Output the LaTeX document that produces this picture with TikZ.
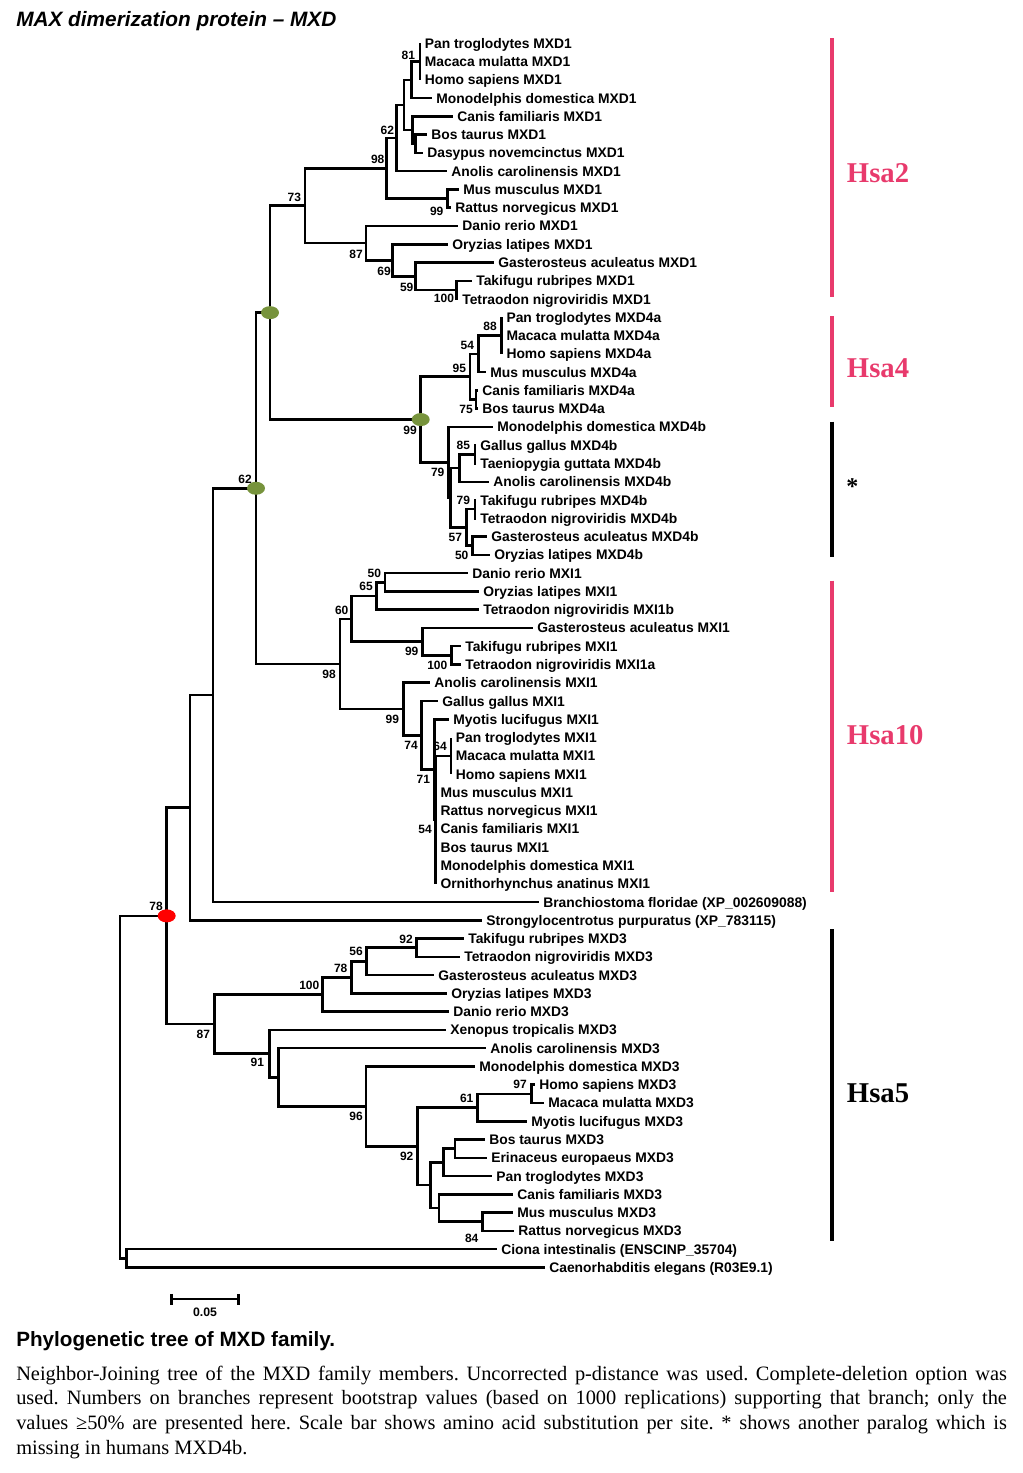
\documentclass[tikz,border=0pt]{standalone}
\usepackage{fontspec}
\setmainfont{Liberation Serif}
\newfontfamily\arialf{Liberation Sans}
\usetikzlibrary{shapes.geometric}
\definecolor{hsapink}{RGB}{232,58,108}
\definecolor{olivedot}{RGB}{119,147,60}
\frenchspacing
\begin{document}
\begin{tikzpicture}[x=0.75pt,y=-0.75pt,
 declare function={ly(\i)=43.3+18.27*(\i-1);},
 br/.style={line width=1.9pt, line join=miter},
 leaf/.style={anchor=west, inner xsep=3.4pt, inner ysep=0pt, font=\arialf\bfseries\fontsize{10.4}{12}\selectfont, text height=7.5pt, text depth=0pt},
 bs/.style={inner sep=0pt, font=\arialf\bfseries\fontsize{9}{10}\selectfont},
 hdot/.style={ellipse, inner sep=0pt, minimum width=13.5pt, minimum height=9.75pt},
 hsa/.style={anchor=west, inner sep=0pt, font=\bfseries\fontsize{21.5}{24}\selectfont},
 grp/.style={line width=3pt},
 capline/.style={anchor=base west, inner sep=0pt, font=\fontsize{15.3}{18.5}\selectfont}
]
\useasboundingbox (0,0) rectangle (1022,1473);

% title
\node[anchor=base west, inner sep=0pt, font=\arialf\bfseries\itshape\fontsize{15.6}{18}\selectfont] (title) at (16,26.7) {MAX dimerization protein – MXD};

% leaves
\foreach \i/\tx/\lab in {
 1/420/Pan troglodytes MXD1,
 2/420/Macaca mulatta MXD1,
 3/420/Homo sapiens MXD1,
 4/431.5/Monodelphis domestica MXD1,
 5/452.5/Canis familiaris MXD1,
 6/426.5/Bos taurus MXD1,
 7/422.5/Dasypus novemcinctus MXD1,
 8/446.5/Anolis carolinensis MXD1,
 9/458.5/Mus musculus MXD1,
 10/450.5/Rattus norvegicus MXD1,
 11/457.5/Danio rerio MXD1,
 12/447.5/Oryzias latipes MXD1,
 13/493.5/Gasterosteus aculeatus MXD1,
 14/471.5/Takifugu rubripes MXD1,
 15/457.5/Tetraodon nigroviridis MXD1,
 16/501.7/Pan troglodytes MXD4a,
 17/501.7/Macaca mulatta MXD4a,
 18/501.7/Homo sapiens MXD4a,
 19/485.5/Mus musculus MXD4a,
 20/477.5/Canis familiaris MXD4a,
 21/477.5/Bos taurus MXD4a,
 22/492.5/Monodelphis domestica MXD4b,
 23/475.5/Gallus gallus MXD4b,
 24/475.5/Taeniopygia guttata MXD4b,
 25/488.5/Anolis carolinensis MXD4b,
 26/475.5/Takifugu rubripes MXD4b,
 27/475.5/Tetraodon nigroviridis MXD4b,
 28/486.5/Gasterosteus aculeatus MXD4b,
 29/489.5/Oryzias latipes MXD4b,
 30/467.5/Danio rerio MXI1,
 31/478.5/Oryzias latipes MXI1,
 32/478.5/Tetraodon nigroviridis MXI1b,
 33/532.5/Gasterosteus aculeatus MXI1,
 34/460.5/Takifugu rubripes MXI1,
 35/460.5/Tetraodon nigroviridis MXI1a,
 36/429.5/Anolis carolinensis MXI1,
 37/437.5/Gallus gallus MXI1,
 38/448.5/Myotis lucifugus MXI1,
 39/451/Pan troglodytes MXI1,
 40/451/Macaca mulatta MXI1,
 41/451/Homo sapiens MXI1,
 42/435.7/Mus musculus MXI1,
 43/435.7/Rattus norvegicus MXI1,
 44/435.7/Canis familiaris MXI1,
 45/435.7/Bos taurus MXI1,
 46/435.7/Monodelphis domestica MXI1,
 47/435.7/Ornithorhynchus anatinus MXI1,
 48/538.5/Branchiostoma floridae (XP\_002609088),
 49/481.5/Strongylocentrotus purpuratus (XP\_783115),
 50/463.5/Takifugu rubripes MXD3,
 51/459.5/Tetraodon nigroviridis MXD3,
 52/433.5/Gasterosteus aculeatus MXD3,
 53/446.5/Oryzias latipes MXD3,
 54/448.5/Danio rerio MXD3,
 55/445.5/Xenopus tropicalis MXD3,
 56/485.5/Anolis carolinensis MXD3,
 57/474.5/Monodelphis domestica MXD3,
 58/534.5/Homo sapiens MXD3,
 59/543.5/Macaca mulatta MXD3,
 60/526.5/Myotis lucifugus MXD3,
 61/484.5/Bos taurus MXD3,
 62/486.5/Erinaceus europaeus MXD3,
 63/491.5/Pan troglodytes MXD3,
 64/512.5/Canis familiaris MXD3,
 65/512.5/Mus musculus MXD3,
 66/513.5/Rattus norvegicus MXD3,
 67/496.5/Ciona intestinalis (ENSCINP\_35704),
 68/544.5/Caenorhabditis elegans (R03E9.1)}
 \node[leaf] (l\i) at (\tx,{ly(\i)}) {\lab};

% internal nodes (x in px, y as leaf index)
\foreach \n/\x/\k in {
 n81/420/2, nA/411.7/3, nD/415.7/6.5, nC/412.3/5.75, nB/404/4.375,
 nE/396.7/6.1875, nG/447.7/9.5, nF/386.7/7.84375, nL/456.7/14.5,
 nK/415.7/13.75, nJ/392.3/12.875, nI/366/11.9375, nH/305/9.890625,
 n88/501.7/17, n54/478.3/18, n75/476/20.5, n95/470/19.25,
 n85/475/23.5, nR/459.3/24.25, nU/475/26.5, nV/472.7/28.5,
 nS/466.7/27.5, nQ/450.7/25.875, nP/448.3/23.9375, nM/420.7/21.59375,
 nW/270/15.7421875,
 nAB/385/30.5, nAA/376.7/31.25, nAD/451.7/34.5, nAC/422.7/33.75,
 nZ/351.7/32.5, nAI/451/40, nAH/435.7/43.5, nAG/434.3/40.75,
 nAF/421.7/38.875, nAE/403.3/37.4375, nY/340/34.96875,
 nX/256/25.35546875, nBr/213/36.677734375, nSt/190/42.8388671875,
 nBE/416.7/50.5, nBD/366.7/51.25, nBC/351.7/52.125, nBB/322.7/53.0625,
 nBK/531.7/58.5, nBJ/477.3/59.25, nBN/455/61.5, nBM/443.3/62.25,
 nBP/482.7/65.5, nBO/439/64.75, nBL/430.7/63.5, nBI/417.3/61.375,
 nBH/366/59.1875, nBG/278.3/57.59375, nBF/269.3/56.296875,
 nBA/214.3/54.6796875, nRed/166.7/48.7592773, nCC/126.7/67.5,
 nRoot/120/58.1296387}
 \coordinate (\n) at (\x,{ly(\k)});

% branches
\foreach \p/\c in {
 n81/l1.west, n81/l2.west, n81/l3.west, nA/n81, nA/l4.west,
 nD/l6.west, nD/l7.west, nC/l5.west, nC/nD, nB/nA, nB/nC,
 nE/nB, nE/l8.west, nG/l9.west, nG/l10.west, nF/nE, nF/nG,
 nL/l14.west, nL/l15.west, nK/l13.west, nK/nL, nJ/l12.west, nJ/nK,
 nI/l11.west, nI/nJ, nH/nF, nH/nI,
 n88/l16.west, n88/l17.west, n88/l18.west, n54/n88, n54/l19.west,
 n75/l20.west, n75/l21.west, n95/n54, n95/n75,
 n85/l23.west, n85/l24.west, nR/n85, nR/l25.west,
 nU/l26.west, nU/l27.west, nV/l28.west, nV/l29.west, nS/nU, nS/nV,
 nQ/nR, nQ/nS, nP/l22.west, nP/nQ, nM/n95, nM/nP, nW/nH, nW/nM,
 nAB/l30.west, nAB/l31.west, nAA/nAB, nAA/l32.west,
 nAD/l34.west, nAD/l35.west, nAC/l33.west, nAC/nAD, nZ/nAA, nZ/nAC,
 nAI/l39.west, nAI/l40.west, nAI/l41.west, nAH/nAI,
 nAH/l42.west, nAH/l43.west, nAH/l44.west, nAH/l45.west, nAH/l46.west, nAH/l47.west,
 nAG/l38.west, nAG/nAH, nAF/l37.west, nAF/nAG, nAE/l36.west, nAE/nAF,
 nY/nZ, nY/nAE, nX/nW, nX/nY, nBr/nX, nBr/l48.west, nSt/nBr, nSt/l49.west,
 nBE/l50.west, nBE/l51.west, nBD/nBE, nBD/l52.west, nBC/nBD, nBC/l53.west,
 nBB/nBC, nBB/l54.west,
 nBK/l58.west, nBK/l59.west, nBJ/nBK, nBJ/l60.west,
 nBN/l61.west, nBN/l62.west, nBM/nBN, nBM/l63.west,
 nBP/l65.west, nBP/l66.west, nBO/l64.west, nBO/nBP,
 nBL/nBM, nBL/nBO, nBI/nBJ, nBI/nBL, nBH/l57.west, nBH/nBI,
 nBG/l56.west, nBG/nBH, nBF/l55.west, nBF/nBG, nBA/nBB, nBA/nBF,
 nRed/nSt, nRed/nBA, nCC/l67.west, nCC/l68.west, nRoot/nRed, nRoot/nCC}
 \draw[br] (\p) |- (\c);

% highlighted nodes
\node[hdot, fill=olivedot] (d1) at (nW) {};
\node[hdot, fill=olivedot] (d2) at (nM) {};
\node[hdot, fill=olivedot] (d3) at (nX) {};
\node[hdot, fill=red] (d4) at (nRed) {};

% bootstrap values
\foreach \n/\x/\y/\t in {
 b1/408.3/55/81, b2/387.3/130/62, b3/377.7/159.3/98, b4/294.3/197.3/73,
 b5/436.7/211/99, b6/356/254/87, b7/384/271.7/69, b8/406.7/287/59,
 b9/444/298.5/100, b10/490/326.7/88, b11/467.3/345/54, b12/459.3/368.3/95,
 b13/466/409.3/75, b14/410/430/99, b15/463.3/445.7/85, b16/437.7/472.7/79,
 b17/463.3/500/79, b18/455.3/537.7/57, b19/461.7/555.7/50, b20/245/479/62,
 b21/374.3/573.3/50, b22/366/586.7/65, b23/341.7/610/60, b24/411.7/651/99,
 b25/437.3/665/100, b26/329/674.3/98, b27/392.3/719/99, b28/411/745.7/74,
 b29/440/746.7/64, b30/423.3/779.3/71, b31/425/829.3/54, b32/156/906/78,
 b33/406/939/92, b34/356/951.7/56, b35/340.7/968.3/78, b36/309.3/985/100,
 b37/203.3/1034/87, b38/257.3/1062.7/91, b39/520/1084.3/97, b40/466.7/1098.3/61,
 b41/356/1116.7/96, b42/406.7/1156/92, b43/471.7/1238/84}
 \node[bs] (\n) at (\x,\y) {\t};

% group bars and labels
\draw[grp, hsapink] (831.7,38.3) -- (831.7,296.7);
\draw[grp, hsapink] (831.7,316) -- (831.7,406.7);
\draw[grp, black] (831.7,421.7) -- (831.7,556.7);
\draw[grp, hsapink] (831.7,580.7) -- (831.7,891.7);
\draw[grp, black] (831.7,929) -- (831.7,1240.5);
\node[hsa, text=hsapink] (h2) at (846.7,173) {Hsa2};
\node[hsa, text=hsapink] (h4) at (846.7,368.3) {Hsa4};
\node[inner sep=0pt, font=\bfseries\fontsize{18}{20}\selectfont] (star) at (852.3,487) {*};
\node[hsa, text=hsapink] (h10) at (846.7,735) {Hsa10};
\node[hsa, text=black] (h5) at (846.7,1093) {Hsa5};

% scale bar
\coordinate (s1) at (171.7,1299);
\coordinate (s2) at (238.3,1299);
\draw[line width=1.9pt] (s1) -- (s2);
\draw[line width=1.9pt] ([yshift=3.9pt]s1) -- ([yshift=-4.2pt]s1);
\draw[line width=1.9pt] ([yshift=3.9pt]s2) -- ([yshift=-4.2pt]s2);
\node[bs, font=\arialf\bfseries\fontsize{9.2}{10}\selectfont] (sl) at (205,1312) {0.05};

% caption
\node[anchor=base west, inner sep=0pt, font=\arialf\bfseries\fontsize{15.5}{18}\selectfont] (ctitle) at (16,1346) {Phylogenetic tree of MXD family.};
\node[capline] (c1) at (16,1380) {\makebox[743pt][s]{Neighbor-Joining tree of the MXD family members. Uncorrected p-distance was used. Complete-deletion option was}};
\node[capline] (c2) at (16,1404.7) {\makebox[743pt][s]{used. Numbers on branches represent bootstrap values (based on 1000 replications) supporting that branch; only the}};
\node[capline] (c3) at (16,1429.4) {\makebox[743pt][s]{values ≥50\% are presented here. Scale bar shows amino acid substitution per site. * shows another paralog which is}};
\node[capline] (c4) at (16,1454) {missing in humans MXD4b.};
\end{tikzpicture}
\end{document}
